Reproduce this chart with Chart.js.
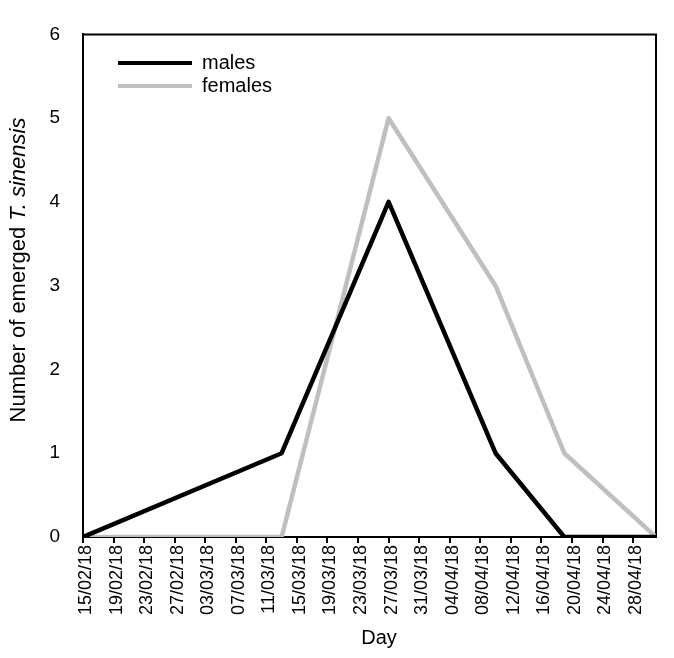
<!DOCTYPE html>
<html>
<head>
<meta charset="utf-8">
<script src="https://cdn.jsdelivr.net/npm/chart.js@4.4.0/dist/chart.umd.min.js"></script>
<style>
  html, body { margin: 0; padding: 0; background: #fff; }
  canvas { display: block; }
</style>
</head>
<body>
<canvas id="emergence" width="674" height="658"></canvas>
<script>
// sampling dates (dd/mm/yy) and emerged adults per sex
var sampleDates = ['15/02/18', '13/03/18', '27/03/18', '10/04/18', '19/04/18', '01/05/18'];
var males = [0, 1, 4, 1, 0, 0];
var females = [0, 0, 5, 3, 1, 0];

// x tick labels, one every 4 days from the first sample
var tickLabels = ['15/02/18', '19/02/18', '23/02/18', '27/02/18', '03/03/18', '07/03/18',
  '11/03/18', '15/03/18', '19/03/18', '23/03/18', '27/03/18', '31/03/18', '04/04/18',
  '08/04/18', '12/04/18', '16/04/18', '20/04/18', '24/04/18', '28/04/18'];
var tickStepDays = 4;
var yMax = 6;

var FONT = "'Liberation Sans', Arial, sans-serif";

function toUTC(s) {
    var p = s.split('/');
    return Date.UTC(2000 + Number(p[2]), Number(p[1]) - 1, Number(p[0]));
}
var startTime = toUTC(sampleDates[0]);
function dayOffset(s) {
    return Math.round((toUTC(s) - startTime) / 86400000);
}

function points(values) {
    return values.map(function (v, i) { return { x: dayOffset(sampleDates[i]), y: v }; });
}

/**
 * Box lines on top and right of the plot
 */
var frame = {
    id: 'frame',
    beforeDatasetsDraw: function (chart) {
        var a = chart.chartArea, ctx = chart.ctx;
        ctx.save();
        ctx.strokeStyle = '#000';
        ctx.lineWidth = 2;
        ctx.beginPath();
        ctx.moveTo(a.left, a.top);
        ctx.lineTo(a.right, a.top);
        ctx.lineTo(a.right, a.bottom);
        ctx.stroke();
        ctx.restore();
    }
};

/**
 * Legend inside the plot, and axis titles (y title has an italic species name)
 */
var annotations = {
    id: 'annotations',
    afterDraw: function (chart) {
        var ctx = chart.ctx;
        ctx.save();
        ctx.fillStyle = '#000';
        ctx.textBaseline = 'middle';
        ctx.font = '20px ' + FONT;

        chart.data.datasets.forEach(function (ds, i) {
            var y = 63 + i * 23;
            ctx.strokeStyle = ds.borderColor;
            ctx.lineWidth = 4;
            ctx.beginPath();
            ctx.moveTo(118, y);
            ctx.lineTo(192, y);
            ctx.stroke();
            ctx.textAlign = 'left';
            ctx.fillText(ds.label, 202, y);
        });

        ctx.textAlign = 'center';
        ctx.font = '20px ' + FONT;
        ctx.fillText('Day', 379, 638);

        var plain = 'Number of emerged ', italic = 'T. sinensis';
        ctx.font = '22px ' + FONT;
        var w1 = ctx.measureText(plain).width;
        ctx.font = 'italic 22px ' + FONT;
        var w2 = ctx.measureText(italic).width;
        ctx.translate(19, 270);
        ctx.rotate(-Math.PI / 2);
        ctx.textAlign = 'left';
        ctx.font = '22px ' + FONT;
        ctx.fillText(plain, -(w1 + w2) / 2, 0);
        ctx.font = 'italic 22px ' + FONT;
        ctx.fillText(italic, -(w1 + w2) / 2 + w1, 0);
        ctx.restore();
    }
};

var ctx = document.getElementById('emergence').getContext('2d');

new Chart(ctx, {
    type: 'line',
    data: {
        datasets: [
            { label: 'males', data: points(males), borderColor: '#000000' },
            { label: 'females', data: points(females), borderColor: '#bfbfbf' }
        ]
    },
    options: {
        responsive: false,
        animation: false,
        layout: { padding: { top: 25, right: 18, left: 0, bottom: 0 } },
        elements: {
            line: { borderWidth: 4.5, tension: 0, borderJoinStyle: 'round', fill: false },
            point: { radius: 0, hoverRadius: 0 }
        },
        plugins: { legend: { display: false }, tooltip: { enabled: false } },
        scales: {
            x: {
                type: 'linear',
                min: 0,
                max: dayOffset(sampleDates[sampleDates.length - 1]),
                afterFit: function (scale) { scale.height = 121; },
                border: { display: true, color: '#000', width: 2 },
                grid: { drawOnChartArea: false, drawTicks: true, tickLength: 6, color: '#000', lineWidth: 2 },
                ticks: {
                    stepSize: tickStepDays,
                    includeBounds: false,
                    autoSkip: false,
                    minRotation: 90,
                    maxRotation: 90,
                    padding: 2,
                    labelOffset: 3,
                    color: '#000',
                    font: { family: FONT, size: 18 },
                    callback: function (value, index) { return tickLabels[index]; }
                }
            },
            y: {
                min: 0,
                max: yMax,
                afterFit: function (scale) { scale.width = 83; },
                border: { display: true, color: '#000', width: 2 },
                grid: { display: false, drawTicks: false },
                ticks: {
                    stepSize: 1,
                    padding: 23,
                    color: '#000',
                    font: { family: FONT, size: 19 }
                }
            }
        }
    },
    plugins: [frame, annotations]
});
</script>
</body>
</html>
